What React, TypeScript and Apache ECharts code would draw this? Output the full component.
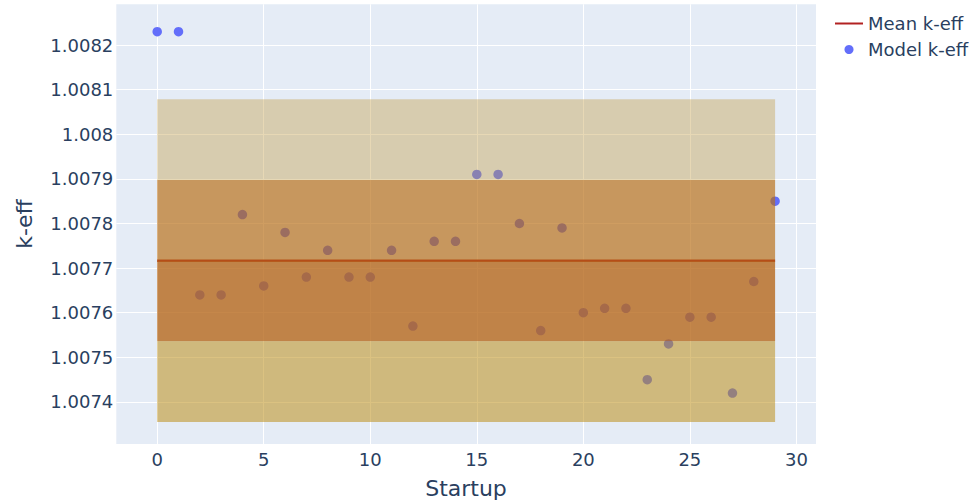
import React, { useEffect, useRef } from "react";
import * as echarts from "echarts";

// ---- data ----
const startups: number[] = [
  0, 1, 2, 3, 4, 5, 6, 7, 8, 9, 10, 11, 12, 13, 14, 15, 16, 17, 18, 19, 20, 21, 22, 23, 24, 25, 26, 27, 28, 29,
];
const keff: number[] = [
  1.00823, 1.00823, 1.00764, 1.00764, 1.00782, 1.00766, 1.00778, 1.00768, 1.00774, 1.00768,
  1.00768, 1.00774, 1.00757, 1.00776, 1.00776, 1.00791, 1.00791, 1.0078, 1.00756, 1.00779,
  1.0076, 1.00761, 1.00761, 1.00745, 1.00753, 1.00759, 1.00759, 1.00742, 1.00767, 1.00785,
];
const legendLabels: string[] = ["Mean k-eff", "Model k-eff"];
const xTitle = "Startup";
const yTitle = "k-eff";

// derived statistics (mean and population std of the model values)
const mean = keff.reduce((a, b) => a + b, 0) / keff.length;
const std = Math.sqrt(keff.reduce((a, b) => a + (b - mean) * (b - mean), 0) / keff.length);

// ---- styles ----
const FONT = "DejaVu Sans";
const TXT = "#2a3f5f";
const BG = "#E5ECF6";
const BLUE = "#636EFA";
const RED = "#B22222";
const bandColors = [
  "rgba(196,158,71,0.4)", // +1σ..+2σ
  "rgba(183,109,19,0.67)", // mean..+1σ
  "rgba(183,105,29,0.8)", // -1σ..mean
  "rgba(189,143,26,0.55)", // -2σ..-1σ
];

export default function App() {
  const ref = useRef<HTMLDivElement>(null);
  useEffect(() => {
    if (!ref.current) return;
    const chart = echarts.init(ref.current, null, { renderer: "svg" });
    const x0 = startups[0];
    const x1 = startups[startups.length - 1];
    const bands = [
      [x0, x1, mean + std, mean + 2 * std, 0],
      [x0, x1, mean, mean + std, 1],
      [x0, x1, mean - std, mean, 2],
      [x0, x1, mean - 2 * std, mean - std, 3],
    ];
    chart.setOption({
      animation: false,
      backgroundColor: "#fff",
      textStyle: { fontFamily: FONT },
      grid: {
        left: 116.3,
        right: 158,
        top: 4.3,
        bottom: 57,
        show: true,
        backgroundColor: BG,
        borderWidth: 0,
        containLabel: false,
        outerBoundsMode: "none",
      },
      xAxis: {
        type: "value",
        min: -1.92,
        max: 30.92,
        splitNumber: 6,
        axisLine: { show: false },
        axisTick: { show: false },
        splitLine: { show: true, showMinLine: false, showMaxLine: false, lineStyle: { color: "#fff", width: 1 } },
        axisLabel: {
          showMinLabel: false,
          showMaxLabel: false,
          color: TXT,
          fontFamily: FONT,
          fontSize: 18,
          margin: 6,
        },
      },
      yAxis: {
        type: "value",
        min: 1.0073058,
        max: 1.0082913,
        splitNumber: 10,
        scale: true,
        axisLine: { show: false },
        axisTick: { show: false },
        splitLine: { show: true, showMinLine: false, showMaxLine: false, lineStyle: { color: "#fff", width: 1 } },
        axisLabel: {
          showMinLabel: false,
          showMaxLabel: false,
          color: TXT,
          fontFamily: FONT,
          fontSize: 18,
          margin: 3,
          formatter: (v: number) => String(parseFloat(v.toFixed(4))),
        },
      },
      series: [
        {
          type: "line",
          name: legendLabels[0],
          data: [
            [x0, mean],
            [x1, mean],
          ],
          showSymbol: false,
          symbol: "none",
          lineStyle: { color: RED, width: 2.5 },
          z: 1,
          silent: true,
        },
        {
          type: "scatter",
          name: legendLabels[1],
          data: startups.map((s, i) => [s, keff[i]]),
          symbolSize: 9.5,
          itemStyle: { color: BLUE, opacity: 1 },
          z: 2,
          silent: true,
        },
        {
          type: "custom",
          data: bands,
          encode: { x: [0, 1], y: [2, 3] },
          z: 3,
          silent: true,
          renderItem: (params: any, api: any) => {
            const p0 = api.coord([api.value(0), api.value(3)]);
            const p1 = api.coord([api.value(1), api.value(2)]);
            return {
              type: "rect",
              shape: { x: p0[0], y: p0[1], width: p1[0] - p0[0], height: p1[1] - p0[1] },
              style: { fill: bandColors[api.value(4)] },
            };
          },
        },
      ],
      graphic: [
        {
          type: "text",
          x: 466,
          y: 488,
          style: { text: xTitle, fill: TXT, font: `22px "${FONT}"`, align: "center", verticalAlign: "middle" },
        },
        {
          type: "text",
          x: 24,
          y: 224,
          rotation: Math.PI / 2,
          style: { text: yTitle, fill: TXT, font: `22px "${FONT}"`, align: "center", verticalAlign: "middle" },
        },
        {
          type: "line",
          shape: { x1: 835, y1: 23.5, x2: 863, y2: 23.5 },
          style: { stroke: RED, lineWidth: 2 },
        },
        {
          type: "text",
          x: 868,
          y: 23.5,
          style: { text: legendLabels[0], fill: TXT, font: `18px "${FONT}"`, align: "left", verticalAlign: "middle" },
        },
        {
          type: "circle",
          shape: { cx: 849, cy: 49.5, r: 4.5 },
          style: { fill: BLUE },
        },
        {
          type: "text",
          x: 868,
          y: 49,
          style: { text: legendLabels[1], fill: TXT, font: `18px "${FONT}"`, align: "left", verticalAlign: "middle" },
        },
      ],
    });
    return () => chart.dispose();
  }, []);
  return (
    <div
      ref={ref}
      style={{ position: "absolute", left: 0, top: 0, width: 974, height: 501 }}
    />
  );
}
